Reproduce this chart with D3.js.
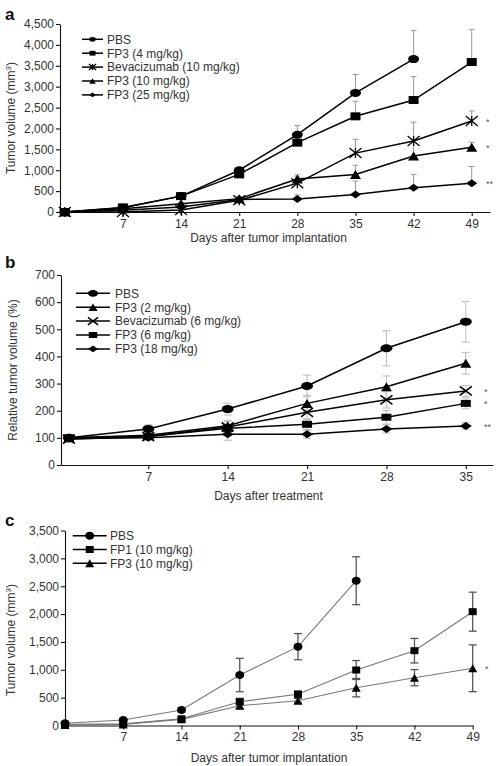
<!DOCTYPE html>
<html><head><meta charset="utf-8">
<script src="https://cdn.jsdelivr.net/npm/d3@7"></script>
<style>body{margin:0;background:#fff;} svg{display:block;font-family:"Liberation Sans",Arial,Helvetica,sans-serif;}</style>
</head><body><svg id="chart" width="496" height="766"></svg>
<script>
// ---------- Panel a data ----------
const daysA = [0, 7, 14, 21, 28, 35, 42, 49];
const namesA = ["PBS", "FP3 (4 mg/kg)", "Bevacizumab (10 mg/kg)", "FP3 (10 mg/kg)", "FP3 (25 mg/kg)"];
const pbsA      = [0, 100, 380, 1000, 1850, 2850, 3660, null];
const pbsErrA   = [0, 0, 40, 60, 220, 440, 680, null];
const fp3_4A    = [0, 110, 380, 900, 1660, 2290, 2680, 3590];
const fp3_4ErrA = [0, 20, 40, 60, 150, 360, 560, 780];
const bevA      = [0, 0, 50, 280, 690, 1410, 1700, 2180];
const bevErrA   = [0, 0, 0, 50, 150, 330, 450, 240];
const fp3_10A   = [0, 80, 200, 320, 790, 900, 1340, 1550];
const fp3_10ErrA= [0, 0, 30, 50, 100, 220, 400, 120];
const fp3_25A   = [0, 40, 120, 300, 310, 420, 580, 690];
const fp3_25ErrA= [0, 0, 20, 40, 100, 320, 320, 400];
const sigA = ["", "", "*", "*", "**"];
const yTicksA = [0, 500, 1000, 1500, 2000, 2500, 3000, 3500, 4000, 4500];
const xTicksA = [7, 14, 21, 28, 35, 42, 49];

// ---------- Panel b data ----------
const daysB = [0, 7, 14, 21, 28, 35];
const namesB = ["PBS", "FP3 (2 mg/kg)", "Bevacizumab (6 mg/kg)", "FP3 (6 mg/kg)", "FP3 (18 mg/kg)"];
const pbsB       = [100, 133, 206, 291, 430, 528];
const pbsErrB    = [10, 15, 22, 40, 65, 75];
const fp3_2B     = [100, 110, 145, 227, 288, 375];
const fp3_2ErrB  = [10, 10, 20, 30, 40, 40];
const bevB       = [95, 105, 140, 194, 240, 273];
const bevErrB    = [10, 10, 20, 25, 30, 20];
const fp3_6B     = [100, 105, 135, 150, 176, 227];
const fp3_6ErrB  = [10, 10, 15, 20, 25, 20];
const fp3_18B    = [98, 100, 113, 113, 133, 144];
const fp3_18ErrB = [10, 10, 22, 15, 15, 12];
const sigB = ["", "", "*", "*", "**"];
const yTicksB = [0, 100, 200, 300, 400, 500, 600, 700];
const xTicksB = [7, 14, 21, 28, 35];

// ---------- Panel c data ----------
const daysC = [0, 7, 14, 21, 28, 35, 42, 49];
const namesC = ["PBS", "FP1 (10 mg/kg)", "FP3 (10 mg/kg)"];
const pbsC     = [40, 99, 278, 906, 1415, 2599, null, null];
const pbsErrC  = [20, 20, 40, 300, 235, 430, null, null];
const fp1C     = [20, 30, 120, 427, 560, 996, 1343, 2043];
const fp1ErrC  = [10, 10, 20, 60, 60, 170, 220, 350];
const fp3C     = [10, 20, 110, 355, 445, 679, 858, 1027];
const fp3ErrC  = [10, 10, 20, 50, 40, 165, 145, 420];
const sigC = ["", "", "*"];
const yTicksC = [0, 500, 1000, 1500, 2000, 2500, 3000, 3500];
const xTicksC = [7, 14, 21, 28, 35, 42, 49];

// ---------- drawing ----------
const svg = d3.select("#chart");

function marker(g, type, x, y, w, h, color) {
  const hw = w / 2, hh = h / 2;
  if (type === "circle") {
    g.append("ellipse").attr("cx", x).attr("cy", y).attr("rx", hw).attr("ry", hh).attr("fill", color);
  } else if (type === "square") {
    g.append("rect").attr("x", x - hw).attr("y", y - hh).attr("width", w).attr("height", h).attr("fill", color);
  } else if (type === "triangle") {
    g.append("path").attr("d", `M${x - hw},${y + hh}L${x},${y - hh}L${x + hw},${y + hh}Z`).attr("fill", color);
  } else if (type === "diamond") {
    g.append("path").attr("d", `M${x - hw},${y}L${x},${y - hh}L${x + hw},${y}L${x},${y + hh}Z`).attr("fill", color);
  } else if (type === "asterisk") {
    g.append("path").attr("d", `M${x - hw},${y - hh}L${x + hw},${y + hh}M${x - hw},${y + hh}L${x + hw},${y - hh}M${x},${y - hh}L${x},${y + hh}`)
      .attr("stroke", color).attr("stroke-width", 1.3).attr("fill", "none");
  } else if (type === "cross") {
    g.append("path").attr("d", `M${x - hw},${y - hh}L${x + hw},${y + hh}M${x - hw},${y + hh}L${x + hw},${y - hh}`)
      .attr("stroke", color).attr("stroke-width", 1.6).attr("fill", "none");
  }
}

function drawPanel(p) {
  const g = svg.append("g");
  const x = d3.scaleLinear().domain(p.xDomain).range(p.xRange);
  const y = d3.scaleLinear().domain(p.yDomain).range(p.yRange);

  const ya = g.append("g").attr("transform", `translate(${p.xRange[0]},0)`)
    .call(d3.axisLeft(y).tickValues(p.yTicks).tickFormat(d3.format(",")).tickSize(4).tickSizeOuter(0).tickPadding(2));
  const xa = g.append("g").attr("transform", `translate(0,${p.yRange[0]})`)
    .call(d3.axisBottom(x).tickValues(p.xTicks).tickFormat(d3.format("d")).tickSize(4).tickSizeOuter(0).tickPadding(3));
  [ya, xa].forEach(a => {
    a.selectAll("text").attr("font-size", 12).attr("fill", "#333").attr("font-family", "Liberation Sans, Arial, sans-serif");
    a.selectAll("path,line").attr("stroke", "#111").attr("stroke-width", 1.1);
  });

  // panel letter
  g.append("text").attr("x", 5).attr("y", p.letterY).text(p.letter)
    .attr("font-size", 17).attr("font-weight", "bold").attr("fill", "#111");
  // axis titles
  g.append("text").attr("x", p.xTitlePos[0]).attr("y", p.xTitlePos[1]).attr("text-anchor", "middle")
    .attr("font-size", 12).attr("fill", "#333").text(p.xTitle);
  const yt = g.append("text").attr("transform", `translate(${p.yTitlePos[0]},${p.yTitlePos[1]}) rotate(-90)`)
    .attr("text-anchor", "middle").attr("font-size", 12).attr("fill", "#333");
  yt.append("tspan").text(p.yTitle);
  if (p.yTitleSup) {
    yt.append("tspan").attr("font-size", 8).attr("dy", -4).text(p.yTitleSup);
    yt.append("tspan").attr("dy", 4).text(")");
  }

  const line = d3.line().defined(d => d.v != null).x(d => x(d.d)).y(d => y(d.v));

  // error bars
  p.series.forEach(s => {
    s.values.forEach((v, i) => {
      if (v == null || !s.err[i]) return;
      const xx = x(p.days[i]);
      const top = y(v + s.err[i]);
      const bot = p.bothErr ? y(Math.max(0, v - s.err[i])) : y(v);
      g.append("line").attr("x1", xx).attr("x2", xx).attr("y1", top).attr("y2", bot)
        .attr("stroke", p.errColor).attr("stroke-width", p.errWidth);
      g.append("line").attr("x1", xx - p.cap).attr("x2", xx + p.cap).attr("y1", top).attr("y2", top)
        .attr("stroke", p.errColor).attr("stroke-width", p.errWidth);
      if (p.bothErr) g.append("line").attr("x1", xx - p.cap).attr("x2", xx + p.cap).attr("y1", bot).attr("y2", bot)
        .attr("stroke", p.errColor).attr("stroke-width", p.errWidth);
    });
  });
  // lines
  p.series.forEach(s => {
    const pts = s.values.map((v, i) => ({ d: p.days[i], v }));
    g.append("path").attr("d", line(pts)).attr("fill", "none").attr("stroke", p.lineColor).attr("stroke-width", p.lineWidth);
  });
  // markers
  p.series.forEach(s => {
    s.values.forEach((v, i) => {
      if (v == null) return;
      marker(g, s.type, x(p.days[i]), y(v), s.w, s.h, "#000");
    });
  });
  // significance
  p.series.forEach((s, k) => {
    if (!p.sig[k]) return;
    const vals = s.values.filter(v => v != null);
    const last = vals[vals.length - 1];
    g.append("text").attr("x", p.sigX).attr("y", y(last) + 4).attr("font-size", 9).attr("fill", "#555").text(p.sig[k]);
  });
  // legend
  p.names.forEach((n, k) => {
    const ly = p.legend.y0 + k * p.legend.dy;
    const s = p.series[k];
    g.append("line").attr("x1", p.legend.x0).attr("x2", p.legend.x1).attr("y1", ly).attr("y2", ly)
      .attr("stroke", "#000").attr("stroke-width", p.legend.lw);
    marker(g, s.type, (p.legend.x0 + p.legend.x1) / 2, ly, s.w * p.legend.scale, s.h * p.legend.scale, "#000");
    g.append("text").attr("x", p.legend.tx).attr("y", ly + 4.3).attr("font-size", 12).attr("fill", "#333").text(n);
  });
}

drawPanel({
  letter: "a", letterY: 20,
  days: daysA, names: namesA, sig: sigA, sigX: 486,
  xDomain: [-0.58, 51.2], xRange: [60, 490], yDomain: [0, 4500], yRange: [212, 24],
  xTicks: xTicksA, yTicks: yTicksA,
  xTitle: "Days after tumor implantation", xTitlePos: [268.5, 242],
  yTitle: "Tumor volume (mm", yTitleSup: "3", yTitlePos: [15, 118],
  lineColor: "#000", lineWidth: 1.5, errColor: "#999", errWidth: 1, cap: 3, bothErr: false,
  legend: { x0: 82, x1: 103, tx: 107, y0: 39.3, dy: 13.9, lw: 1.5, scale: 0.6 },
  series: [
    { values: pbsA, err: pbsErrA, type: "circle", w: 11, h: 8 },
    { values: fp3_4A, err: fp3_4ErrA, type: "square", w: 10, h: 8 },
    { values: bevA, err: bevErrA, type: "asterisk", w: 12, h: 10 },
    { values: fp3_10A, err: fp3_10ErrA, type: "triangle", w: 11, h: 9 },
    { values: fp3_25A, err: fp3_25ErrA, type: "diamond", w: 11, h: 8 }
  ]
});

drawPanel({
  letter: "b", letterY: 268,
  days: daysB, names: namesB, sig: sigB, sigX: 484,
  xDomain: [-0.7, 37.4], xRange: [61, 493], yDomain: [0, 700], yRange: [465, 275],
  xTicks: xTicksB, yTicks: yTicksB,
  xTitle: "Days after treatment", xTitlePos: [268.5, 500],
  yTitle: "Relative tumor volume (%)", yTitlePos: [17, 370],
  lineColor: "#000", lineWidth: 1.5, errColor: "#bbb", errWidth: 1, cap: 4, bothErr: true,
  legend: { x0: 76, x1: 110, tx: 115, y0: 293.3, dy: 13.9, lw: 1.5, scale: 0.85 },
  series: [
    { values: pbsB, err: pbsErrB, type: "circle", w: 12, h: 8 },
    { values: fp3_2B, err: fp3_2ErrB, type: "triangle", w: 11, h: 9 },
    { values: bevB, err: bevErrB, type: "cross", w: 12, h: 9 },
    { values: fp3_6B, err: fp3_6ErrB, type: "square", w: 10, h: 7 },
    { values: fp3_18B, err: fp3_18ErrB, type: "diamond", w: 12, h: 8 }
  ]
});

drawPanel({
  letter: "c", letterY: 526,
  days: daysC, names: namesC, sig: sigC, sigX: 485,
  xDomain: [0, 49], xRange: [65, 472.7], yDomain: [0, 3500], yRange: [725.5, 530.5],
  xTicks: xTicksC, yTicks: yTicksC,
  xTitle: "Days after tumor implantation", xTitlePos: [269, 762],
  yTitle: "Tumor volume (mm", yTitleSup: "3", yTitlePos: [15, 640],
  lineColor: "#777", lineWidth: 1.1, errColor: "#555", errWidth: 1.3, cap: 4, bothErr: true,
  legend: { x0: 72.7, x1: 106.7, tx: 110, y0: 535.7, dy: 13.8, lw: 1.5, scale: 1 },
  series: [
    { values: pbsC, err: pbsErrC, type: "circle", w: 9, h: 8 },
    { values: fp1C, err: fp1ErrC, type: "square", w: 8, h: 7 },
    { values: fp3C, err: fp3ErrC, type: "triangle", w: 9, h: 8 }
  ]
});
</script>
</body></html>
